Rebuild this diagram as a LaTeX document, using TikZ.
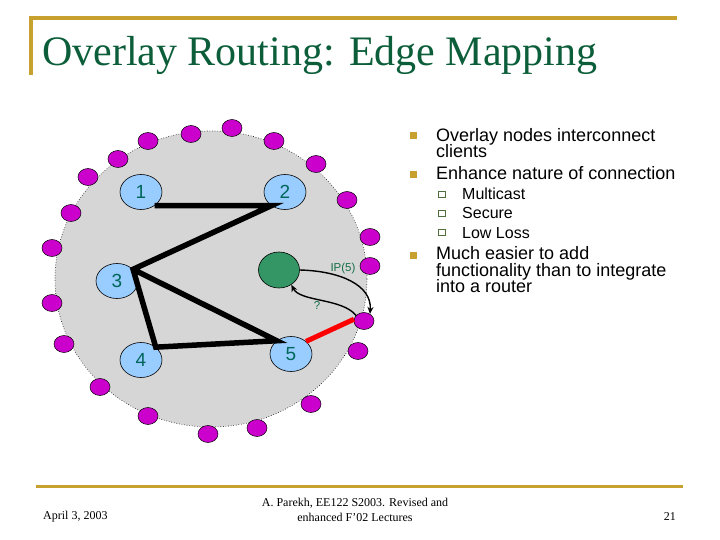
\documentclass[tikz,border=0pt]{standalone}
\usepackage{fontspec}
\setmainfont{Liberation Serif}
\newfontfamily\arialfont{Liberation Sans}
\usetikzlibrary{arrows.meta,shapes.geometric}
\definecolor{gold}{RGB}{199,160,45}
\definecolor{titlegreen}{RGB}{12,94,58}
\definecolor{ringgray}{RGB}{214,214,214}
\definecolor{ovblue}{RGB}{153,204,255}
\definecolor{dotmag}{RGB}{204,0,204}
\definecolor{hostgreen}{RGB}{51,150,100}
\definecolor{numteal}{RGB}{0,102,90}
\definecolor{labgreen}{RGB}{20,110,70}
\definecolor{subbox}{RGB}{80,110,60}
\tikzset{
  goldline/.style={draw=gold, line width=3.5pt},
  client/.style={ellipse, draw=black, line width=0.5pt, fill=dotmag, minimum width=20pt, minimum height=17pt, inner sep=0pt},
  overlay/.style={ellipse, draw=black, line width=0.6pt, fill=ovblue, minimum width=42pt, minimum height=35pt, inner sep=0pt, text=numteal, font=\arialfont\fontsize{19}{19}\selectfont},
  hostnode/.style={ellipse, draw=black, line width=0.6pt, fill=hostgreen, minimum width=41pt, minimum height=36pt, inner sep=0pt},
  thick edge/.style={draw=black, line width=5.5pt},
  red edge/.style={draw=red, line width=5pt},
  curvearrow/.style={draw=black, line width=1.4pt, -{Stealth[length=7pt,width=6pt]}},
  smalllab/.style={text=labgreen, font=\arialfont\fontsize{11.5}{11.5}\selectfont, inner sep=0pt},
  bigtext/.style={anchor=base west, inner sep=0pt, font=\arialfont\fontsize{18}{18}\selectfont},
  subtext/.style={anchor=base west, inner sep=0pt, font=\arialfont\fontsize{16}{16}\selectfont},
  bulletsq/.style={fill=gold, minimum size=7pt, inner sep=0pt},
  subsq/.style={draw=subbox, line width=1pt, fill=white, minimum width=7pt, minimum height=6pt, inner sep=0pt},
  foottext/.style={inner sep=0pt, font=\fontsize{12}{14.5}\selectfont}
}
\begin{document}
\begin{tikzpicture}[x=1pt,y=-1pt]
\useasboundingbox (0,0) rectangle (720,540);
% frame lines
\draw[goldline] (31,75) -- (31,18) -- (677,18);
\draw[draw=gold, line width=3pt] (36,486) -- (683,486);
% title
\node[anchor=base west, inner sep=0pt, text=titlegreen, font=\fontsize{42}{42}\selectfont] (title) at (42,66) {Overlay Routing: Edge Mapping};
% ring
\path[fill=ringgray, draw=black, line width=0.6pt, dotted] (211,279) ellipse [x radius=156, y radius=148];
% clients
\foreach \n/\x/\y in {1/232/128, 2/191/134, 3/148/141, 4/118/159, 5/88/177, 6/71/213, 7/52/248, 8/52/303, 9/64/344, 10/100/387, 11/148/416, 12/208/434, 13/257/428, 14/311/404, 15/358/351, 16/364/321, 17/370/266, 18/370/237, 19/347/200, 20/316/164, 21/274/141}
  \node[client] (d\n) at (\x,\y) {};
% overlay nodes
\node[overlay] (n1) at (141,192) {1};
\node[overlay] (n2) at (285,192) {2};
\node[overlay] (n3) at (117,281) {3};
\node[overlay] (n4) at (141,360) {4};
\node[overlay] (n5) at (291,354) {5};
\node[hostnode] (g) at (279,270) {};
% overlay edges
\draw[thick edge] (n1.-45) -- (n2.-135) -- (n3.36) -- (n4.41) -- (n5.137) -- (n3.36);
\draw[red edge] (n5.40) -- (d16.170);
% IP routing arrows
\draw[curvearrow] (g.east) .. controls (340,271) and (372,285) .. (d16.50);
\draw[curvearrow] (d16.145) .. controls (342,298) and (300,302) .. (g.-50);
\node[smalllab] (iplab) at (343,269) {IP(5)};
\node[smalllab] (qlab) at (317,305) {?};
% bullets
\node[bulletsq] (b1) at (413,136) {};
\node[bulletsq] (b2) at (413,175) {};
\node[bulletsq] (b3) at (413,255) {};
\node[subsq] (s1) at (442,195) {};
\node[subsq] (s2) at (442,213.5) {};
\node[subsq] (s3) at (442,232.5) {};
\node[bigtext] (t1a) at (436,141.5) {Overlay nodes interconnect};
\node[bigtext] (t1b) at (436,158) {clients};
\node[bigtext] (t2) at (436,179.3) {Enhance nature of connection};
\node[subtext] (u1) at (462,199.3) {Multicast};
\node[subtext] (u2) at (462,218.3) {Secure};
\node[subtext] (u3) at (462,238.3) {Low Loss};
\node[bigtext] (t3a) at (436,259.3) {Much easier to add};
\node[bigtext] (t3b) at (436,276) {functionality than to integrate};
\node[bigtext] (t3c) at (436,292.7) {into a router};
% footer
\node[foottext, anchor=west] (date) at (43,517) {April 3, 2003};
\node[foottext, align=center] (credit) at (355,510) {A. Parekh, EE122 S2003. Revised and\\enhanced\ F'02 Lectures};
\node[foottext, anchor=east] (page) at (676,517) {21};
\end{tikzpicture}
\end{document}
